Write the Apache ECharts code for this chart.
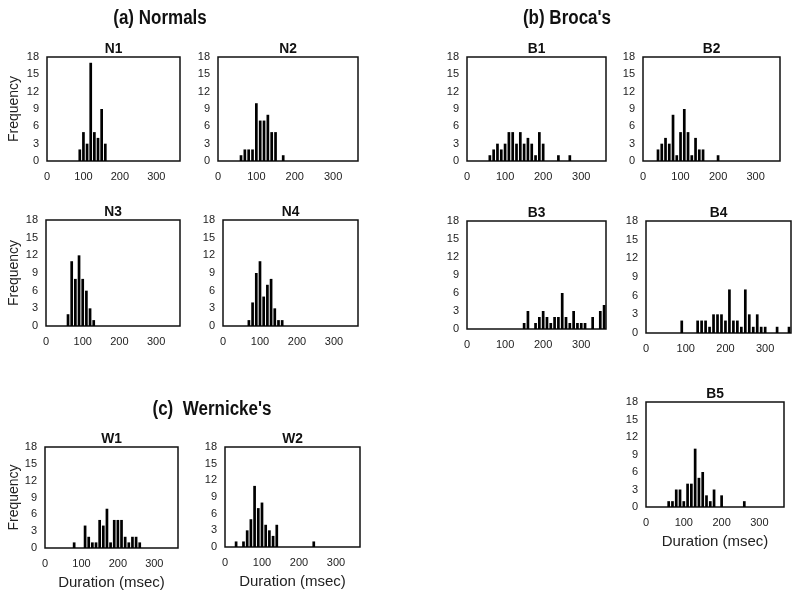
<!DOCTYPE html>
<html><head><meta charset="utf-8">
<script src="https://cdn.jsdelivr.net/npm/echarts@6/dist/echarts.min.js"></script>
<style>html,body{margin:0;padding:0;background:#fff}#c{width:800px;height:591px}</style>
</head><body><div id="c"></div>
<script>
// ---- data (duration bins in msec, frequency counts) ----
const n1Bins = [90,100,110,120,130,140,150,160];
const n1Counts = [2,5,3,17,5,4,9,3];
const n2Bins = [60,70,80,90,100,110,120,130,140,150,170];
const n2Counts = [1,2,2,2,10,7,7,8,5,5,1];
const n3Bins = [60,70,80,90,100,110,120,130];
const n3Counts = [2,11,8,12,8,6,3,1];
const n4Bins = [70,80,90,100,110,120,130,140,150,160];
const n4Counts = [1,4,9,11,5,7,8,3,1,1];
const b1Bins = [60,70,80,90,100,110,120,130,140,150,160,170,180,190,200,240,270];
const b1Counts = [1,2,3,2,3,5,5,3,5,3,4,3,1,5,3,1,1];
const b2Bins = [40,50,60,70,80,90,100,110,120,130,140,150,160,200];
const b2Counts = [2,3,4,3,8,1,5,9,5,1,4,2,2,1];
const b3Bins = [150,160,180,190,200,210,220,230,240,250,260,270,280,290,300,310,330,350,360];
const b3Counts = [1,3,1,2,3,2,1,2,2,6,2,1,3,1,1,1,2,3,4];
const b4Bins = [90,130,140,150,160,170,180,190,200,210,220,230,240,250,260,270,280,290,300,330,360];
const b4Counts = [2,2,2,2,1,3,3,3,2,7,2,2,1,7,3,1,3,1,1,1,1];
const b5Bins = [60,70,80,90,100,110,120,130,140,150,160,170,180,200,260];
const b5Counts = [1,1,3,3,1,4,4,10,5,6,2,1,3,2,1];
const w1Bins = [80,110,120,130,140,150,160,170,180,190,200,210,220,230,240,250,260];
const w1Counts = [1,4,2,1,1,5,4,7,1,5,5,5,2,1,2,2,1];
const w2Bins = [30,50,60,70,80,90,100,110,120,130,140,240];
const w2Counts = [1,1,3,5,11,7,8,4,3,2,4,1];
const xTicks = [0,100,200,300];
const yTicks = [0,3,6,9,12,15,18];

// ---- layout ----
const panels = [
  {name:'N1', bins:n1Bins, counts:n1Counts, box:[47,57,180,161], freq:true,  dur:false},
  {name:'N2', bins:n2Bins, counts:n2Counts, box:[218,57,358,161], freq:false, dur:false},
  {name:'B1', bins:b1Bins, counts:b1Counts, box:[467,57,606,161], freq:false, dur:false},
  {name:'B2', bins:b2Bins, counts:b2Counts, box:[643,57,780,161], freq:false, dur:false},
  {name:'N3', bins:n3Bins, counts:n3Counts, box:[46,220,180,326], freq:true,  dur:false},
  {name:'N4', bins:n4Bins, counts:n4Counts, box:[223,220,358,326], freq:false, dur:false},
  {name:'B3', bins:b3Bins, counts:b3Counts, box:[467,221,606,329], freq:false, dur:false},
  {name:'B4', bins:b4Bins, counts:b4Counts, box:[646,221,791,333], freq:false, dur:false},
  {name:'W1', bins:w1Bins, counts:w1Counts, box:[45,447,178,548], freq:true,  dur:true},
  {name:'W2', bins:w2Bins, counts:w2Counts, box:[225,447,360,547], freq:false, dur:true},
  {name:'B5', bins:b5Bins, counts:b5Counts, box:[646,402,784,507], freq:false, dur:true}
];

const FONT = 'Liberation Sans, Arial, sans-serif';
const grid = [], xAxis = [], yAxis = [], series = [], graphic = [];
panels.forEach((p, i) => {
  const [l, t, r, b] = p.box;
  grid.push({left:l, top:t, width:r-l, height:b-t, show:true, borderColor:'#111', borderWidth:1.5, containLabel:false});
  xAxis.push({type:'value', gridIndex:i, min:xTicks[0], max:365, interval:xTicks[1]-xTicks[0],
    axisLine:{show:false}, axisTick:{show:false}, splitLine:{show:false},
    axisLabel:{color:'#222', fontSize:11, fontFamily:FONT, margin:10, showMaxLabel:false,
      formatter: v => (xTicks.indexOf(v) >= 0 ? String(v) : '')}});
  yAxis.push({type:'value', gridIndex:i, min:yTicks[0], max:yTicks[yTicks.length-1], interval:yTicks[1]-yTicks[0],
    axisLine:{show:false}, axisTick:{show:false}, splitLine:{show:false},
    axisLabel:{color:'#222', fontSize:11, fontFamily:FONT, margin:8}});
  series.push({type:'bar', xAxisIndex:i, yAxisIndex:i, barWidth:2.7, silent:true, animation:false,
    itemStyle:{color:'#000'}, data:p.bins.map((x, k) => [x, p.counts[k]])});
  graphic.push({type:'text', x:(l+r)/2, y:t-1, scaleX:0.92, style:{text:p.name, font:'bold 15px '+FONT, fill:'#111', textAlign:'center', textVerticalAlign:'bottom'}});
  if (p.freq) {
    graphic.push({type:'text', x:14, y:(t+b)/2, rotation:Math.PI/2,
      style:{text:'Frequency', font:'14px '+FONT, fill:'#222', textAlign:'center', textVerticalAlign:'middle'}});
  }
  if (p.dur) {
    graphic.push({type:'text', x:(l+r)/2, y:b+27,
      style:{text:'Duration (msec)', font:'15px '+FONT, fill:'#222', textAlign:'center', textVerticalAlign:'top'}});
  }
});
const headerStyle = t => ({text:t, font:'bold 20px '+FONT, fill:'#111', textAlign:'center', textVerticalAlign:'middle'});
graphic.push({type:'text', x:160, y:18, scaleX:0.85, style:headerStyle('(a) Normals')});
graphic.push({type:'text', x:567, y:18, scaleX:0.85, style:headerStyle("(b) Broca's")});
graphic.push({type:'text', x:212, y:409, scaleX:0.85, style:headerStyle("(c)  Wernicke's")});

const chart = echarts.init(document.getElementById('c'), null, {renderer:'canvas'});
chart.setOption({animation:false, backgroundColor:'#fff', grid, xAxis, yAxis, series, graphic});
</script></body></html>
